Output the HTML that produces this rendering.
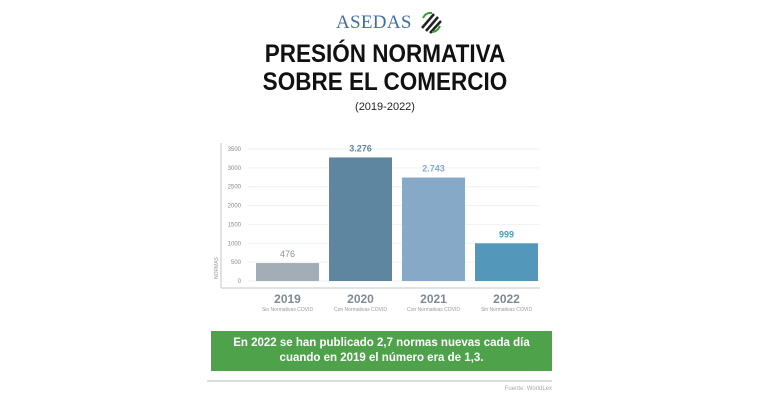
<!DOCTYPE html>
<html><head><meta charset="utf-8"><style>
body{margin:0;width:770px;height:408px;background:#fff;font-family:"Liberation Sans",sans-serif;overflow:hidden;position:relative}
.a{position:absolute}
</style></head><body>
<div class="a" style="left:336px;top:10px;width:110px;height:26px">
<span style="font-family:'Liberation Serif',serif;font-size:19px;color:#3f6fa8;position:absolute;left:0;top:2px;letter-spacing:0.3px">ASEDAS</span>
<svg style="position:absolute;left:84px;top:0" width="22" height="24"><g stroke="#222" stroke-width="2.5"><line x1="2" y1="18" x2="14" y2="4"/><line x1="6" y1="21" x2="18" y2="7"/><line x1="10" y1="23" x2="21" y2="11"/></g><path d="M3 8 Q6 2 12 3" stroke="#3a9a3a" stroke-width="2" fill="none"/><path d="M20 16 Q17 22 12 22" stroke="#3a9a3a" stroke-width="2" fill="none"/></svg>
</div>
<div class="a" style="left:0;width:770px;top:40px;text-align:center;font-weight:bold;font-size:25px;line-height:28px;color:#111;transform:scaleX(0.9);transform-origin:385px 0">PRESIÓN NORMATIVA<br>SOBRE EL COMERCIO</div>
<div class="a" style="left:0;width:770px;top:101px;text-align:center;font-size:11px;color:#222">(2019-2022)</div>
<svg class="a" style="left:0;top:0" width="770" height="408" id="chart"></svg>
<div class="a" style="left:211px;top:331px;width:341px;height:40px;background:#4ea24a;color:#fff;font-weight:bold;font-size:11.5px;line-height:15px;text-align:center;padding-top:5px;box-sizing:border-box">En 2022 se han publicado 2,7 normas nuevas cada día<br>cuando en 2019 el número era de 1,3.</div>
<div class="a" style="left:207px;top:380px;width:345px;height:2px;background:#d8dde0"></div>
<div class="a" style="left:400px;width:152px;top:386px;text-align:right;font-size:6px;color:#aaa">Fuente: WorldLex</div>
<script>
const categories=["2019","2020","2021","2022"];
const subLabels=["Sin Normativas COVID","Con Normativas COVID","Con Normativas COVID","Sin Normativas COVID"];
const values=[476,3276,2743,999];
const valueLabels=["476","3.276","2.743","999"];
const ticks=[0,500,1000,1500,2000,2500,3000,3500];
const colors=["#a2adb5","#5f86a0","#86a9c8","#5397ba"];
const labelColors=["#8a949b","#5f86a0","#86a9c8","#5397ba"];
const svg=document.getElementById('chart');const NS="http://www.w3.org/2000/svg";
const y0=281,yTop=149,maxV=3500,x0=248,bandW=73;
const y=v=>y0-(v/maxV)*(y0-yTop);
const bx=i=>x0+i*bandW;
function mk(t,a,txt){const e=document.createElementNS(NS,t);for(const k in a)e.setAttribute(k,a[k]);if(txt!=null)e.textContent=txt;svg.appendChild(e);return e;}
ticks.forEach(t=>{
 const g=mk('line',{x1:248,x2:540,y1:y(t),y2:y(t),stroke:'#eef0f2','stroke-width':1});
 
 
 const l=mk('text',{x:241,y:y(t)+2,'text-anchor':'end','font-size':6,fill:'#888','font-family':'Liberation Sans'},t);
 
 
});
const ax=mk('line',{x1:221,x2:221,y1:143,y2:288,stroke:'#d5dade','stroke-width':1.5});


const bxl=mk('line',{x1:221,x2:540,y1:288,y2:288,stroke:'#d5dade','stroke-width':1.5});


const yt=mk('text',{x:0,y:0,transform:'translate(218,268) rotate(-90)','text-anchor':'middle','font-size':5,fill:'#999','font-family':'Liberation Sans'},'NORMAS');


values.forEach((v,i)=>{
 const x=bx(i)+8,w=63;
 const r=mk('rect',{x:x,y:y(v),width:w,height:y0-y(v),fill:colors[i]});
 
 
 const vl=mk('text',{x:x+w/2,y:y(v)-6,'text-anchor':'middle','font-size':9,'font-weight':i==0?'normal':'bold',fill:labelColors[i],'font-family':'Liberation Sans'},valueLabels[i]);
 
 
 const cl=mk('text',{x:x+w/2,y:303,'text-anchor':'middle','font-size':12,'font-weight':'bold',fill:'#7d8a93','font-family':'Liberation Sans'},categories[i]);
 
 
 const sl=mk('text',{x:x+w/2,y:311,'text-anchor':'middle','font-size':5,fill:'#999','font-family':'Liberation Sans'},subLabels[i]);
 
 
});
</script>
</body></html>
